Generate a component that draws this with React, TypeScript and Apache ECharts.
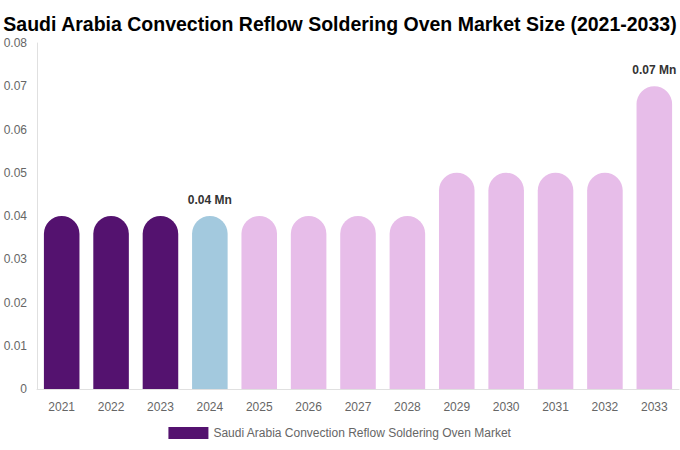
import { useEffect, useRef } from 'react';
import * as echarts from 'echarts';

const years = ['2021', '2022', '2023', '2024', '2025', '2026', '2027', '2028', '2029', '2030', '2031', '2032', '2033'];
const marketSize = [0.04, 0.04, 0.04, 0.04, 0.04, 0.04, 0.04, 0.04, 0.05, 0.05, 0.05, 0.05, 0.07];
// which bars carry a value label
const labelled = ['2024', '2033'];

const HISTORIC = '#54126f';
const CURRENT = '#a3c9de';
const FORECAST = '#e7bde9';

const barColor = (i: number) => (i < 3 ? HISTORIC : i === 3 ? CURRENT : FORECAST);

const App = () => {
    const chartRef = useRef<HTMLDivElement>(null);

    useEffect(() => {
        document.body.style.margin = '0';
        if (!chartRef.current) return;
        const chart = echarts.init(chartRef.current, null, { renderer: 'svg' });
        chart.setOption({
            animation: false,
            textStyle: { fontFamily: '"Liberation Sans", Arial, sans-serif' },
            title: {
                text: 'Saudi Arabia Convection Reflow Soldering Oven Market Size (2021-2033)',
                left: 'center',
                top: 9,
                textStyle: { fontSize: 19.5, fontWeight: 'bold', color: '#000' },
            },
            grid: { left: 37, right: 1, top: 43, bottom: 61 },
            legend: {
                bottom: 6,
                left: 'center',
                itemWidth: 40,
                itemHeight: 12,
                icon: 'rect',
                textStyle: { color: '#666', fontSize: 12 },
                data: [{ name: 'Saudi Arabia Convection Reflow Soldering Oven Market', itemStyle: { color: HISTORIC } }],
            },
            xAxis: {
                type: 'category',
                data: years,
                axisLine: { lineStyle: { color: '#e0e0e0' } },
                axisTick: { show: false },
                axisLabel: { color: '#666', fontSize: 12, margin: 12 },
            },
            yAxis: {
                type: 'value',
                min: 0,
                max: 0.08,
                interval: 0.01,
                axisLine: { show: true, lineStyle: { color: '#e0e0e0' } },
                splitLine: { show: false },
                axisLabel: { color: '#666', fontSize: 12, margin: 10 },
            },
            series: [
                {
                    name: 'Saudi Arabia Convection Reflow Soldering Oven Market',
                    type: 'bar',
                    barWidth: '72%',
                    data: marketSize.map((v, i) => ({
                        value: v,
                        itemStyle: { color: barColor(i), borderRadius: [18, 18, 0, 0] },
                        label: {
                            show: labelled.includes(years[i]),
                            position: 'top',
                            distance: 10,
                            formatter: (p: any) => `${p.value} Mn`,
                            fontWeight: 'bold',
                            fontSize: 12,
                            color: '#333',
                        },
                    })),
                },
            ],
        });
        return () => {
            chart.dispose();
        };
    }, []);

    return <div ref={chartRef} style={{ width: 680, height: 450 }} />;
};

export default App;
